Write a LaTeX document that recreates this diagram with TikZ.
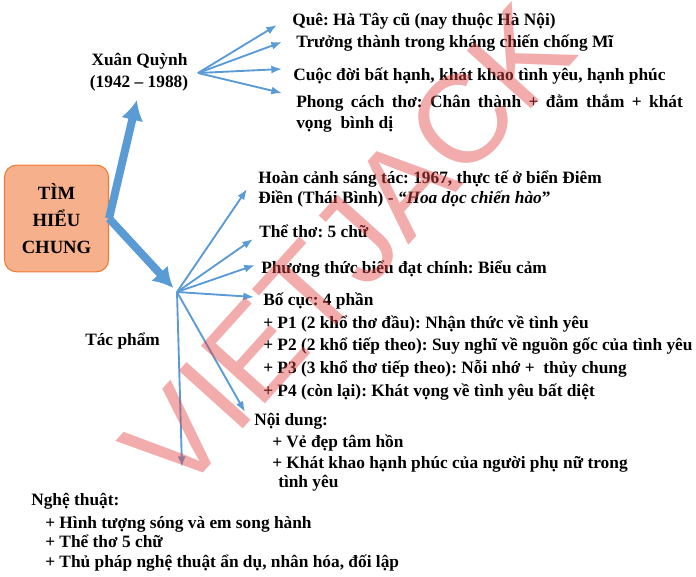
\documentclass[tikz,border=0pt]{standalone}
\usepackage{fontspec}
\setmainfont{Liberation Serif}
\setsansfont{Liberation Sans}
\usetikzlibrary{arrows.meta}
\frenchspacing

\definecolor{arrowblue}{RGB}{91,155,213}
\definecolor{boxfill}{RGB}{246,176,140}
\definecolor{boxline}{RGB}{237,125,49}
\definecolor{markred}{RGB}{226,70,70}

\tikzset{
    txt/.style={anchor=base west, inner sep=0pt, font=\fontsize{13}{16}\selectfont\bfseries},
    thin arrow/.style={->, draw=arrowblue, line width=1.4pt},
    thick arrow/.style={-{Latex[length=15pt,width=17pt]}, draw=arrowblue, fill=arrowblue, line width=6pt},
}

\begin{document}
\begin{tikzpicture}[x=0.75pt, y=-0.75pt, >/.tip={Latex[length=8pt,width=6pt]}]
    \useasboundingbox (0,0) rectangle (696,576);
    % centre box
    \node [draw=boxline, fill=boxfill, line width=0.8pt, rounded corners=9pt,
           minimum width=78pt, minimum height=80pt, align=center,
           font=\fontsize{14}{20.25}\selectfont\bfseries] (tim) at (56.5,218.5) {TÌM\\HIỂU\\CHUNG};
    % author
    \node [txt, anchor=base] (xq) at (139.5,65) {Xuân Quỳnh};
    \node [txt, anchor=base] (xqy) at (139,87) {(1942 – 1988)};
    \coordinate (xqhub) at (198,73);
    \node [txt] (que) at (292,25) {Quê: Hà Tây cũ (nay thuộc Hà Nội)};
    \node [txt] (truong) at (296,47) {Trưởng thành trong kháng chiến chống Mĩ};
    \node [txt] (cuoc) at (293,80) {Cuộc đời bất hạnh, khát khao tình yêu, hạnh phúc};
    \node [txt] (phong) at (296,107) {\makebox[290pt][s]{Phong cách thơ: Chân thành + đằm thắm + khát}};
    \node [txt] (phong2) at (296,128) {vọng\ \ bình dị};
    % work
    \coordinate (tp) at (177,292);
    \node [txt] (tacpham) at (85,345) {Tác phẩm};
    \node [txt] (hoan) at (258,183) {Hoàn cảnh sáng tác: 1967, thực tế ở biển Điêm};
    \node [txt] (hoan2) at (258,203) {Điền (Thái Bình) - \textit{“Hoa dọc chiến hào}”};
    \node [txt] (the) at (259,237) {Thể thơ: 5 chữ};
    \node [txt] (pt) at (261,273) {Phương thức biểu đạt chính: Biểu cảm};
    \node [txt] (bc) at (263,305) {Bố cục: 4 phần};
    \foreach \y/\t [count=\i] in {328/{+ P1 (2 khổ thơ đầu): Nhận thức về tình yêu},
                                  350/{+ P2 (2 khổ tiếp theo): Suy nghĩ về nguồn gốc của tình yêu},
                                  373/{+ P3 (3 khổ thơ tiếp theo): Nỗi nhớ +\ \ thủy chung},
                                  396/{+ P4 (còn lại): Khát vọng về tình yêu bất diệt}} {
        \node [txt] (bc\i) at (263,\y) {\t};
    }
    \node [txt] (nd) at (254,425) {Nội dung:};
    \node [txt] (nd1) at (272,447) {+ Vẻ đẹp tâm hồn};
    \node [txt] (nd2) at (272,468) {+ Khát khao hạnh phúc của người phụ nữ trong};
    \node [txt] (nd3) at (278,487) {tình yêu};
    \coordinate (ntend) at (182,467);
    \node [txt] (nt) at (31,505) {Nghệ thuật:};
    \foreach \y/\t [count=\i] in {528/{+ Hình tượng sóng và em song hành},
                                  547/{+ Thể thơ 5 chữ},
                                  567/{+ Thủ pháp nghệ thuật ẩn dụ, nhân hóa, đối lập}} {
        \node [txt] (nt\i) at (45,\y) {\t};
    }
    % arrows
    \draw [thick arrow, shorten >=7pt] (tim.east) -- (xqy.south);
    \draw [thick arrow, shorten >=4pt] (tim.east) -- (tp);
    \foreach \n/\dx/\dy in {que/-15/0, truong/-14/-5, cuoc/-11/-11, phong/-14/-14} {
        \draw [thin arrow] (xqhub) -- ([shift={(\dx,\dy)}]\n.base west);
    }
    \foreach \n/\dx/\dy in {hoan/-11/6, the/-6/2, pt/-6/-8, bc/-9/-8, nd/-9/-13} {
        \draw [thin arrow] (tp) -- ([shift={(\dx,\dy)}]\n.base west);
    }
    \draw [thin arrow] (tp) -- (ntend);
    % watermark
    \node [rotate=48, text=markred, opacity=0.45, inner sep=0pt,
           font=\fontsize{94}{94}\selectfont\sffamily] (mark) at (348,248) {VIETJACK};
\end{tikzpicture}
\end{document}
